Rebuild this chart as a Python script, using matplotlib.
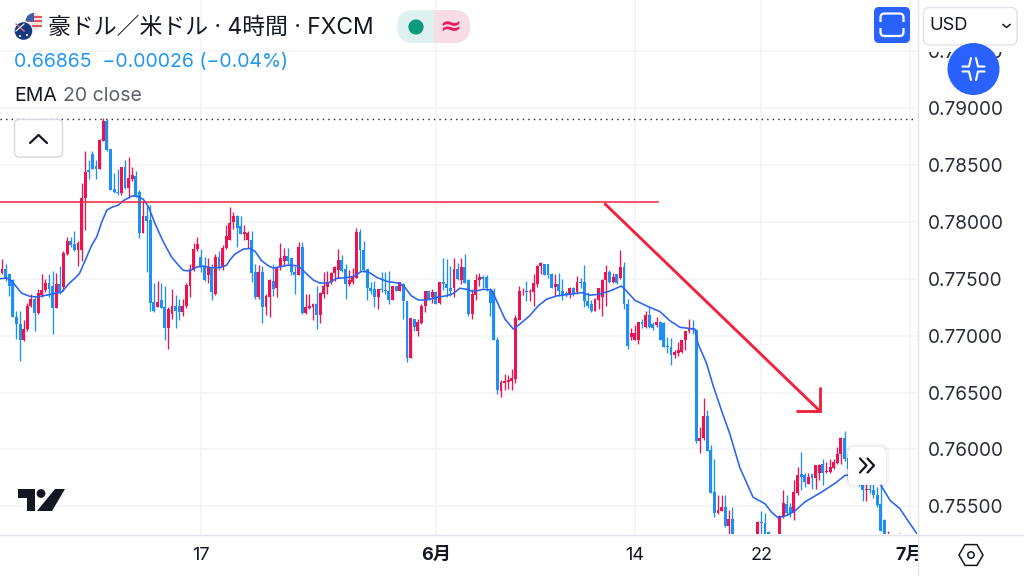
import numpy as np
import matplotlib
matplotlib.use("Agg")
import matplotlib.pyplot as plt
from matplotlib.patches import Rectangle, FancyBboxPatch, Circle, Polygon, RegularPolygon, Wedge
from matplotlib.lines import Line2D

# ---- data (prices in pips, i.e. price x 10000) ----
opens = [
 7747,7755,7758,7754,7749,7716,7710,7696,7706,7726,
 7732,7720,7736,7740,7746,7743,7724,7745,7743,7772,
 7783,7780,7775,7775,7821,7845,7859,7849,7846,7871,
 7888,7864,7829,7826,7825,7848,7830,7838,7840,7826,
 7790,7805,7801,7729,7725,7731,7725,7707,7719,7726,
 7726,7721,7726,7744,7758,7776,7769,7760,7753,7760,
 7737,7769,7760,7777,7784,7800,7805,7796,7789,7784,
 7784,7756,7734,7756,7725,7734,7748,7742,7760,7766,
 7770,7768,7756,7753,7778,7720,7724,7725,7728,7718,
 7737,7743,7747,7755,7758,7766,7758,7745,7747,7751,
 7791,7775,7758,7742,7741,7734,7741,7740,7739,7731,
 7743,7739,7745,7730,7680,7714,7704,7711,7726,7739,
 7734,7738,7729,7747,7745,7742,7742,7758,7749,7760,
 7749,7719,7736,7749,7751,7751,7739,7739,7696,7651,
 7658,7659,7660,7662,7714,7739,7739,7738,7738,7745,
 7761,7763,7763,7754,7743,7745,7739,7737,7736,7742,
 7738,7747,7747,7730,7728,7722,7731,7734,7749,7756,
 7747,7754,7751,7760,7728,7699,7696,7696,7712,7708,
 7718,7710,7709,7712,7711,7691,7690,7683,7685,7686,
 7696,7704,7706,7705,7607,7610,7629,7599,7562,7544,
 7546,7549,7533,7539,7522,7512,7518,7510,7503,7512,
 7518,7536,7535,7527,7518,7510,7520,7541,7552,7549,
 7544,7562,7578,7577,7570,7578,7575,7579,7587,7580,
 7580,7584,7588,7596,7610,7592,7583,7576,7584,7570,
 7564,7565,7564,7560,7552,7538,7512,7515,7509,7511,
 7515,7510,7505,7508]
closes = [
 7752,7758,7750,7744,7716,7710,7696,7706,7726,7732,
 7720,7737,7740,7746,7741,7724,7745,7738,7772,7783,
 7780,7775,7781,7821,7844,7844,7846,7846,7872,7888,
 7863,7828,7826,7825,7848,7830,7838,7841,7822,7790,
 7805,7801,7729,7722,7729,7724,7707,7723,7726,7722,
 7721,7726,7744,7758,7776,7780,7760,7749,7760,7738,
 7769,7760,7777,7787,7799,7805,7795,7789,7791,7790,
 7755,7734,7756,7725,7735,7749,7741,7760,7768,7770,
 7766,7756,7753,7778,7720,7725,7726,7728,7718,7737,
 7743,7747,7755,7760,7766,7757,7745,7749,7752,7791,
 7775,7758,7742,7739,7734,7741,7740,7739,7731,7743,
 7739,7747,7730,7680,7715,7708,7712,7726,7739,7732,
 7738,7728,7747,7745,7742,7739,7758,7750,7760,7746,
 7719,7736,7749,7751,7750,7742,7729,7696,7652,7659,
 7660,7661,7663,7715,7739,7739,7738,7739,7746,7761,
 7764,7753,7753,7742,7745,7739,7736,7736,7742,7737,
 7747,7746,7730,7726,7722,7732,7742,7749,7756,7747,
 7751,7746,7760,7728,7691,7702,7702,7712,7710,7718,
 7708,7707,7712,7696,7690,7690,7683,7685,7687,7696,
 7704,7706,7705,7607,7610,7629,7599,7562,7544,7547,
 7549,7533,7539,7522,7512,7520,7508,7502,7512,7518,
 7536,7535,7520,7520,7510,7520,7541,7553,7544,7544,
 7562,7577,7576,7571,7576,7575,7586,7586,7579,7581,
 7584,7589,7596,7610,7592,7583,7576,7584,7570,7564,
 7565,7564,7560,7551,7528,7518,7520,7508,7516,7518,
 7506,7503,7512,7502]
highs = [
 7757,7767,7763,7755,7750,7722,7722,7714,7729,7737,
 7734,7741,7754,7750,7754,7757,7755,7761,7774,7787,
 7787,7792,7783,7834,7862,7854,7862,7854,7873,7891,
 7890,7864,7843,7846,7848,7854,7857,7848,7845,7828,
 7818,7815,7815,7746,7748,7746,7744,7725,7741,7736,
 7732,7732,7746,7763,7781,7787,7776,7769,7768,7763,
 7772,7774,7780,7797,7813,7809,7806,7805,7797,7792,
 7792,7763,7762,7761,7737,7750,7763,7760,7781,7777,
 7777,7768,7761,7782,7782,7737,7737,7729,7744,7738,
 7756,7757,7756,7761,7776,7771,7763,7758,7759,7795,
 7794,7783,7758,7747,7748,7741,7756,7756,7757,7744,
 7744,7747,7746,7730,7715,7715,7715,7728,7739,7740,
 7741,7739,7747,7768,7767,7761,7768,7764,7768,7772,
 7750,7741,7754,7755,7753,7753,7742,7742,7699,7661,
 7666,7665,7671,7718,7744,7742,7748,7741,7754,7762,
 7765,7763,7763,7755,7754,7755,7750,7739,7743,7743,
 7752,7751,7762,7738,7731,7733,7742,7750,7762,7758,
 7755,7754,7775,7765,7732,7707,7709,7712,7715,7722,
 7725,7712,7716,7713,7712,7699,7698,7687,7694,7696,
 7704,7715,7714,7706,7620,7645,7635,7604,7592,7560,
 7560,7560,7547,7549,7524,7524,7522,7518,7516,7522,
 7537,7546,7544,7528,7522,7524,7542,7564,7560,7553,
 7573,7585,7598,7579,7579,7578,7586,7587,7592,7589,
 7592,7592,7602,7611,7616,7597,7584,7590,7590,7575,
 7570,7570,7570,7567,7570,7539,7528,7522,7522,7527,
 7520,7518,7520,7515]
lows = [
 7731,7754,7748,7735,7716,7697,7678,7695,7704,7725,
 7704,7719,7734,7738,7734,7701,7724,7737,7739,7771,
 7778,7774,7761,7766,7793,7838,7846,7838,7846,7871,
 7862,7828,7825,7824,7824,7829,7821,7836,7822,7786,
 7790,7756,7722,7721,7725,7724,7696,7688,7715,7707,
 7714,7717,7724,7734,7757,7774,7756,7748,7746,7731,
 7736,7758,7758,7776,7784,7794,7778,7789,7784,7777,
 7747,7732,7732,7711,7718,7716,7735,7734,7758,7761,
 7763,7753,7737,7753,7719,7719,7723,7714,7706,7711,
 7733,7737,7745,7748,7751,7756,7732,7744,7745,7751,
 7757,7756,7731,7737,7725,7723,7738,7737,7728,7731,
 7739,7739,7715,7677,7680,7704,7700,7710,7721,7731,
 7729,7728,7728,7740,7734,7735,7734,7749,7745,7746,
 7717,7715,7731,7744,7742,7739,7717,7696,7649,7646,
 7652,7653,7652,7658,7714,7736,7730,7730,7726,7743,
 7754,7753,7751,7742,7735,7735,7731,7734,7733,7735,
 7737,7742,7725,7724,7721,7722,7723,7717,7726,7746,
 7746,7745,7750,7723,7688,7696,7696,7693,7707,7707,
 7707,7705,7708,7696,7690,7685,7674,7680,7682,7685,
 7687,7702,7701,7606,7597,7608,7599,7562,7541,7543,
 7546,7532,7524,7515,7505,7508,7502,7498,7500,7508,
 7515,7520,7515,7515,7505,7508,7515,7540,7542,7541,
 7538,7560,7564,7567,7570,7565,7565,7573,7569,7579,
 7579,7583,7587,7587,7590,7573,7571,7575,7568,7555,
 7555,7562,7557,7549,7528,7512,7510,7503,7505,7508,
 7502,7500,7502,7498]

ema_idx = [0.4,2.3,3.7,5.05,6.4,8.7,10.6,12.9,15.2,17.5,19.3,21.2,22.4,24,25.8,27.2,28.6,30,31.3,33.2,
 34.5,36.9,38.2,40.1,41.5,43.3,45.6,47.9,49.8,51.1,53,54.8,56.7,59,61.3,63.1,64,65.4,67.7,69.6,
 71,72.8,74.6,76,77.9,80.2,82.9,84.8,87.1,88.9,91.2,93.5,95.8,98.1,100.4,102.3,104.6,107.4,111,112.4,
 114.2,116.1,118.4,121.2,123.9,125.8,127.6,129.5,131.3,134.1,136.4,137.8,140.1,142.4,143.3,146.9,149.3,151.6,154.4,158,
 161.3,163.6,165.9,169.1,172.3,173.7,176,179.2,182.9,185.7,188.5,192.6,193.5,195.8,197.7,200,202.3,205,208.7,212,
 213.8,215.6,218,220.3,223,228.1,231.8,234,239.2,243.8,246.6,249.3,251.2,254]
ema_val = [7750,7750.6,7748,7742.7,7737.4,7734.5,7734,7735.3,7736.8,7738.3,7745,7750.6,7754.5,7766,7779.4,7786.8,7800,7810.3,7812.7,7814.7,
 7818.5,7822.7,7822.7,7819.7,7813.3,7798.5,7782.4,7769,7761.8,7757.4,7756.8,7760.3,7761,7759.7,7759.7,7761.8,7766.4,7771.6,7776,7776.6,
 7774,7765.8,7761.4,7759.4,7760.5,7762,7761.4,7755.6,7748.8,7746.2,7746.2,7750.3,7750.9,7751.8,7756.4,7756.1,7751.2,7747.7,7745.9,7742.4,
 7735,7731.3,7731.3,7733.6,7735,7737,7741.6,7740.7,7738.7,7740.7,7740.1,7730.5,7714.5,7705.8,7707.8,7717.4,7726.2,7732,7734.9,7736.3,
 7737.8,7735.5,7736.3,7739.2,7743.6,7739.2,7731.1,7726.2,7721.2,7713.1,7707.3,7705.8,7692.7,7676,7655.7,7634,7613.5,7584.4,7558,7552.3,
 7545,7540,7542,7546,7553.8,7563.4,7571.2,7577,7580,7569.8,7555.2,7548,7539,7526]

price_ticks = [0.795,0.79,0.785,0.78,0.775,0.77,0.765,0.76,0.755]
date_idx = [56,121,176,211,252]
date_labels = ["17","6月","14","22","7月"]
date_bold = [False,True,False,False,True]

hline_price = 0.78174
hline_idx = [0,182.4]
dotted_price = 0.78905
arrow_idx = [167.8,227.2]
arrow_price = [0.78156,0.76337]
barb_idx = [220.9,227.2,227.2]
barb_price = [0.76337,0.76337,0.7654]

title = "豪ドル／米ドル · 4時間 · FXCM"
quote = "0.66865  −0.00026 (−0.04%)"

# ---- styles ----
RED = "#ED1250"; BLUE = "#1E90F5"; EMA = "#2A62F5"; TREND = "#F0243F"
GRID = "#F3F4F6"; SEP = "#E0E3EB"; TXT = "#131722"
W,H = 1024,576
PLOT_W,PLOT_H = 917,534

o,c,h,l = [np.array(a,float)/1e4 for a in (opens,closes,highs,lows)]
idx = np.arange(len(o))
up = c>=o

fig = plt.figure(figsize=(W/100,H/100),dpi=100,facecolor="white")
ax = fig.add_axes([0,1-PLOT_H/H,PLOT_W/W,PLOT_H/H],zorder=1)
ax.set_xlim(0.442,254.04)
ax.set_ylim(0.75257,0.79949)
ax.set_facecolor("white")
for s in ax.spines.values(): s.set_visible(False)

latin_cjk = ["Inter","Noto Sans CJK JP"]
ax.set_yticks(price_ticks)
ax.yaxis.tick_right()
ax.set_yticklabels([f"{p:.5f}" for p in price_ticks],fontfamily="Inter",fontsize=13.7,color="#2A2E39")
ax.tick_params(axis="y",length=0,pad=7.5)
ax.set_xticks(date_idx)
ax.set_xticklabels(date_labels,fontsize=13,color=TXT,family=latin_cjk)
for lab,b in zip(ax.get_xticklabels(),date_bold):
    lab.set_fontweight("bold" if b else "normal")
ax.tick_params(axis="x",length=0,pad=9)
ax.grid(True,color=GRID,lw=1.1,zorder=0)
ax.set_axisbelow(True)

ax.axhline(dotted_price,color="#1B1F4B",lw=1.0,ls=(0,(1,3)),zorder=1)

colors = np.where(up,RED,BLUE)
ax.vlines(idx,l,h,colors=colors,lw=0.95,zorder=2)
ax.bar(idx,np.abs(c-o)+0.00002,bottom=np.minimum(o,c),width=0.8,color=colors,lw=0,zorder=3)
ax.plot(ema_idx,np.array(ema_val)/1e4,color=EMA,lw=1.15,zorder=4,solid_joinstyle="round")
ax.plot(hline_idx,[hline_price]*2,color=TREND,lw=1.1,zorder=4)
ax.plot(arrow_idx,arrow_price,color=TREND,lw=2.1,zorder=4,solid_capstyle="round")
ax.plot(barb_idx,barb_price,color=TREND,lw=2.1,zorder=4,solid_capstyle="round",solid_joinstyle="miter")

# ---- overlay in pixel space ----
ov = fig.add_axes([0,0,1,1],zorder=5)
ov.set_xlim(0,W); ov.set_ylim(H,0); ov.axis("off"); ov.patch.set_alpha(0)

ov.add_patch(Rectangle((917.6,534.5),110,42,fc="white",ec="none",zorder=1))
ov.add_line(Line2D([917.5,917.5],[0,576],color=SEP,lw=1.0,zorder=2))
ov.add_line(Line2D([0,1024],[534.5,534.5],color=SEP,lw=1.0,zorder=2))

def rbox(x0,y0,x1,y1,r,fc,ec="none",lw=0,z=3,**k):
    p = FancyBboxPatch((x0+r,y0+r),x1-x0-2*r,y1-y0-2*r,boxstyle=f"round,pad={r}",fc=fc,ec=ec,lw=lw,zorder=z,**k)
    ov.add_patch(p); return p

# header
ov.text(48,28,title,family=latin_cjk,fontsize=16.45,color=TXT,va="center",ha="left",zorder=3)
ov.text(14,61.5,quote,family="Inter",fontsize=14.0,color="#2196F3",va="center",ha="left",zorder=3)
ov.text(14,96,"EMA",family="Inter",fontsize=14.0,color=TXT,va="center",ha="left",zorder=3)
ov.text(63,96,"20 close",family="Inter",fontsize=14.0,color="#5D606B",va="center",ha="left",zorder=3)

# flags
ov.add_patch(Circle((34,21.5),8.5,fc="#F4E3E3",ec="none",zorder=3))
for y in (15.5,20,24.5):
    ov.add_patch(Rectangle((27,y),15,2,fc="#E0555F",ec="none",zorder=3))
ov.add_patch(Wedge((34,21.5),8.5,180,270,fc="#3F5FA8",ec="none",zorder=3))
ov.add_patch(Circle((23.5,31),9.8,fc="white",ec="none",zorder=3))
ov.add_patch(Circle((23.5,31),8.8,fc="#17397F",ec="none",zorder=3))
ov.add_line(Line2D([16,24],[24,31],color="#E8747C",lw=1.0,zorder=4))
ov.add_line(Line2D([16,24],[31,24],color="white",lw=0.8,zorder=4))
ov.add_patch(Circle((27,35),1,fc="white",ec="none",zorder=4))
ov.add_patch(Circle((20,36),1,fc="white",ec="none",zorder=4))

# status pill
rbox(397,10,470,43,16.5,"#DDF1F1")
clip = Rectangle((434,0),40,50,transform=ov.transData)
p = rbox(397,10,470,43,16.5,"#F9DDE6",z=4); p.set_clip_path(clip)
ov.add_patch(Circle((416,27),7.6,fc="#0E9A7B",ec="none",zorder=5))
ov.text(450.5,26.5,"≈",family="DejaVu Sans",fontsize=19,fontweight="bold",color="#E91E63",ha="center",va="center",zorder=5)

# fullscreen button
rbox(874,7,910,43,5,"#2962FF")
ov.add_patch(FancyBboxPatch((880.5,13.5),23,22.5,boxstyle="round,pad=0,rounding_size=4",fc="none",ec="white",lw=1.6,zorder=4))
ov.add_patch(Rectangle((878,22),28,6,fc="#2962FF",ec="none",zorder=5))

# currency box and circle
ov.add_patch(Rectangle((920,45),100,7,fc="white",ec="none",zorder=2.5))
rbox(923.5,7.5,1017,45,6,"white",ec=SEP,lw=1.0)
ov.text(929.5,26,"USD",family="Inter",fontsize=13.2,color=TXT,va="center",ha="left",zorder=4)
ov.add_line(Line2D([1003,1006.5,1010],[24.5,27.5,24.5],color=TXT,lw=1.1,zorder=4))
ov.add_patch(Circle((973.5,69),26,fc="#2962FF",ec="none",zorder=5))
for sx,sy in ((-1,-1),(1,-1),(-1,1),(1,1)):
    cx,cy = 973.5+sx*2.5,69+sy*2.5
    ov.add_line(Line2D([cx+sx*8.5,cx+sx*2,cx],[cy,cy,cy+sy*8.5],color="white",lw=1.5,zorder=6,solid_joinstyle="round",solid_capstyle="round"))

# collapse button
rbox(14.5,119.5,62.5,157,5,"white",ec="#D6D8DE",lw=1.0)
ov.add_line(Line2D([30,38.5,47],[143,135,143],color="#131722",lw=1.6,zorder=4,solid_capstyle="round",solid_joinstyle="round"))

# TradingView logo
ov.add_patch(Polygon([(18,489),(35,489),(35,511),(26.5,511),(26.5,497.5),(18,497.5)],fc="#131722",ec="none",zorder=3))
ov.add_patch(Circle((41,493.5),4.4,fc="#131722",ec="none",zorder=3))
ov.add_patch(Polygon([(55,489),(65,489),(52,511),(37,511)],fc="#131722",ec="none",zorder=3))

# scroll button with soft shadow
for pad,a in ((4,0.02),(2.5,0.025),(1,0.03)):
    rbox(848-pad,447-pad,886+pad,485+pad,8,"#000000",z=3,alpha=a)
rbox(848,447,886,485,7,"white",z=4)
for dx in (0,7.5):
    ov.add_line(Line2D([860+dx,866.5+dx,860+dx],[458.5,465.5,472.5],color="#131722",lw=1.6,zorder=5,solid_capstyle="round",solid_joinstyle="round"))

# settings hexagon
ov.add_patch(RegularPolygon((971,555),6,radius=12,orientation=np.pi/6,fc="white",ec="#131722",lw=1.1,zorder=3))
ov.add_patch(Circle((971,555),3.2,fc="white",ec="#131722",lw=1.1,zorder=4))

fig.savefig("out.png",dpi=100)
